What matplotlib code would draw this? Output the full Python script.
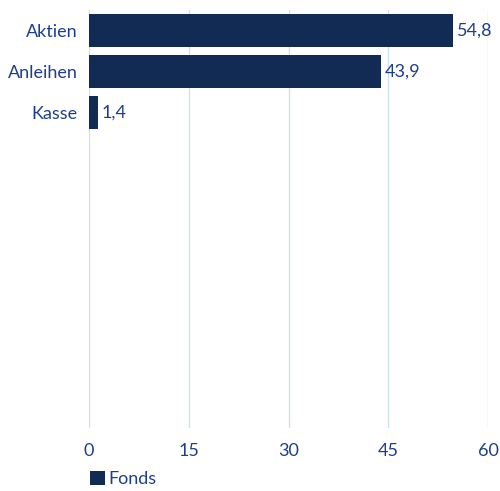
import matplotlib
matplotlib.use("Agg")
import matplotlib.pyplot as plt
from matplotlib.patches import Patch

categories = ["Aktien", "Anleihen", "Kasse"]
values = [54.8, 43.9, 1.4]
value_labels = ["54,8", "43,9", "1,4"]
xticks = [0, 15, 30, 45, 60]
series_name = "Fonds"

bar_color = "#122b54"
text_color = "#1d3f8a"
grid_color = "#cfe2ea"

plt.rcParams['font.family'] = ['Lato', 'DejaVu Sans']
FS = 13

fig = plt.figure(figsize=(5.0, 4.91), dpi=100)
ax = fig.add_axes([89/500, (491-428)/491, (488-89)/500, (428-10)/491])

ypos = list(range(len(categories)))
ax.barh(ypos, values, height=0.8, color=bar_color, zorder=3)
for y, v, lab in zip(ypos, values, value_labels):
    ax.text(v + 0.5, y, lab, va='center', ha='left', fontsize=FS, color=text_color)

ax.set_xlim(0, 60)
ax.set_ylim(9.7, -0.5)
ax.set_xticks(xticks)
ax.set_xticklabels([str(t) for t in xticks], fontsize=FS, color=text_color)
ax.set_yticks(ypos)
ax.set_yticklabels(categories, fontsize=FS, color=text_color)
ax.tick_params(axis='both', length=0, pad=8)
ax.tick_params(axis='x', pad=11)
ax.grid(axis='x', color=grid_color, linewidth=1, zorder=0)
for s in ax.spines.values():
    s.set_visible(False)

fig.legend(handles=[Patch(facecolor=bar_color, label=series_name)],
           loc='center left', bbox_to_anchor=(86/500, 1 - 479/491), frameon=False,
           fontsize=FS, labelcolor=text_color, handlelength=0.85, handleheight=0.85,
           handletextpad=0.2, borderpad=0.2, borderaxespad=0)

fig.savefig("out.png", dpi=100)
